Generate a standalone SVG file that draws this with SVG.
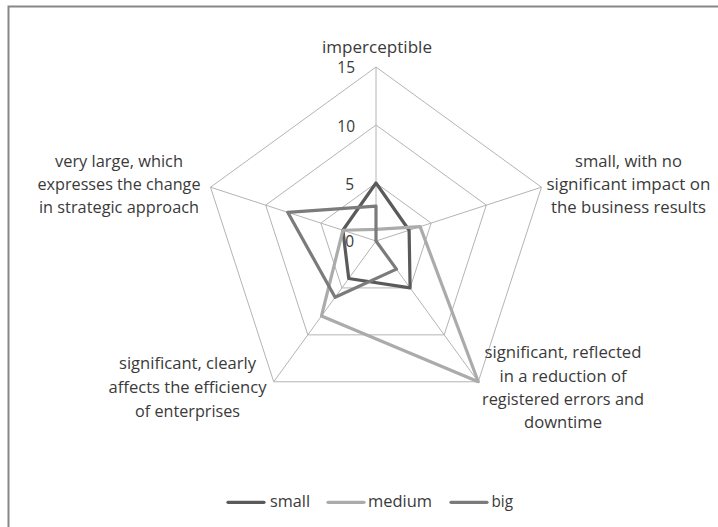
<svg xmlns="http://www.w3.org/2000/svg" width="718" height="527" viewBox="0 0 718 527">
  <style>
    text { font-family: "Open Sans", "Liberation Sans", sans-serif; font-size: 15.5px; fill: #3a3a3a; }
    .lbl { text-anchor: middle; }
    .tick { text-anchor: end; }
    .grid { fill: none; stroke: #b4b4b4; stroke-width: 1; }
    .series { fill: none; stroke-width: 3.2; stroke-linejoin: round; stroke-linecap: round; }
    .small { stroke: #5a5a5a; }
    .medium { stroke: #ababab; }
    .big { stroke: #7b7b7b; }
  </style>
  <rect x="0" y="0" width="718" height="527" fill="#ffffff"/>
  <path d="M8.5,540 V6.5 H740" fill="none" stroke="#878787" stroke-width="2"/>

  <g id="grid">
    <polygon class="grid" points="376,183 431.16,223.08 410.09,287.92 341.91,287.92 320.84,223.08"/>
    <polygon class="grid" points="376,125 486.32,205.15 444.18,334.85 307.82,334.85 265.68,205.15"/>
    <polygon class="grid" points="376,67 541.48,187.23 478.28,381.77 273.72,381.77 210.52,187.23"/>
    <path class="grid" d="M376,241 L376,67 M376,241 L541.48,187.23 M376,241 L478.28,381.77 M376,241 L273.72,381.77 M376,241 L210.52,187.23"/>
  </g>

  <g id="ticks">
    <text class="tick" x="355" y="73.3">15</text>
    <text class="tick" x="355" y="131.7">10</text>
    <text class="tick" x="354" y="190">5</text>
    <text class="tick" x="354" y="247.3">0</text>
  </g>

  <g id="connectors">
    <polygon id="series-small" class="series small" points="376,183 409.10,230.25 410.09,287.92 348.73,278.54 342.90,230.25"/>
    <polygon id="series-medium" class="series medium" points="376,229.4 420.13,226.66 478.28,381.77 321.45,316.08 342.90,230.25"/>
    <polygon id="series-big" class="series big" points="376,206.2 376,241 396.46,269.15 335.09,297.31 287.74,212.32"/>
  </g>

  <g id="axis-imperceptible">
    <text class="lbl" x="377" y="52.7" textLength="110" lengthAdjust="spacingAndGlyphs">imperceptible</text>
  </g>
  <g id="axis-small-impact">
    <text class="lbl" x="628.5" y="167" textLength="107" lengthAdjust="spacingAndGlyphs">small, with no</text>
    <text class="lbl" x="628.5" y="190" textLength="164" lengthAdjust="spacingAndGlyphs">significant impact on</text>
    <text class="lbl" x="628.5" y="213.3" textLength="155" lengthAdjust="spacingAndGlyphs">the business results</text>
  </g>
  <g id="axis-significant-reflected">
    <text class="lbl" x="563" y="358.3" textLength="157" lengthAdjust="spacingAndGlyphs">significant, reflected</text>
    <text class="lbl" x="563" y="381.7" textLength="127" lengthAdjust="spacingAndGlyphs">in a reduction of</text>
    <text class="lbl" x="563" y="405" textLength="162" lengthAdjust="spacingAndGlyphs">registered errors and</text>
    <text class="lbl" x="563" y="428.3" textLength="78" lengthAdjust="spacingAndGlyphs">downtime</text>
  </g>
  <g id="axis-significant-clearly">
    <text class="lbl" x="187.5" y="369.3" textLength="137" lengthAdjust="spacingAndGlyphs">significant, clearly</text>
    <text class="lbl" x="187.5" y="393.3" textLength="158" lengthAdjust="spacingAndGlyphs">affects the efficiency</text>
    <text class="lbl" x="187.5" y="416.7" textLength="105" lengthAdjust="spacingAndGlyphs">of enterprises</text>
  </g>
  <g id="axis-very-large">
    <text class="lbl" x="119" y="166.7" textLength="128" lengthAdjust="spacingAndGlyphs">very large, which</text>
    <text class="lbl" x="119" y="190" textLength="163" lengthAdjust="spacingAndGlyphs">expresses the change</text>
    <text class="lbl" x="119" y="213.3" textLength="160" lengthAdjust="spacingAndGlyphs">in strategic approach</text>
  </g>

  <g id="legend">
    <line class="series small" x1="228" y1="502.3" x2="264" y2="502.3"/>
    <text x="270" y="507.3" textLength="40" lengthAdjust="spacingAndGlyphs">small</text>
    <line class="series medium" x1="328" y1="502.3" x2="364" y2="502.3"/>
    <text x="368" y="507.3" textLength="64" lengthAdjust="spacingAndGlyphs">medium</text>
    <line class="series big" x1="451" y1="502.3" x2="487" y2="502.3"/>
    <text x="491.5" y="507.3" textLength="21.5" lengthAdjust="spacingAndGlyphs">big</text>
  </g>
</svg>
